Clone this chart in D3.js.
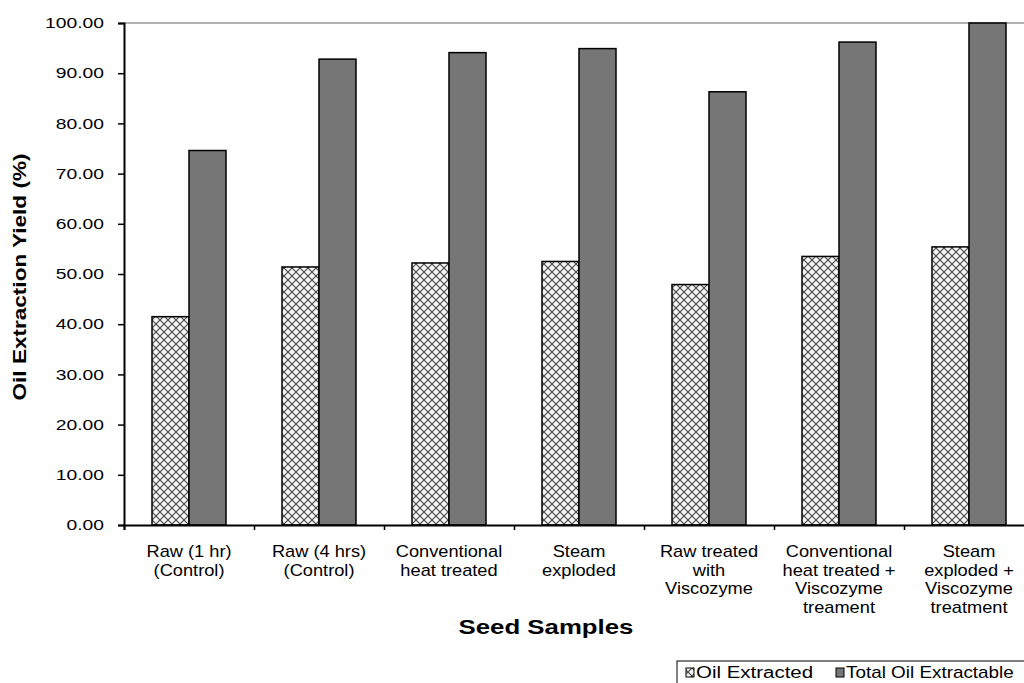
<!DOCTYPE html>
<html><head><meta charset="utf-8">
<script src="https://cdn.jsdelivr.net/npm/d3@7"></script>
<style>body{margin:0;background:#fff;} svg{display:block;font-family:"Liberation Sans",Arial,sans-serif;}</style>
</head><body>
<svg id="c" width="1024" height="683"></svg>
<script>
const categories = [
  ["Raw (1 hr)","(Control)"],
  ["Raw (4 hrs)","(Control)"],
  ["Conventional","heat treated"],
  ["Steam","exploded"],
  ["Raw treated","with","Viscozyme"],
  ["Conventional","heat treated +","Viscozyme","treament"],
  ["Steam","exploded +","Viscozyme","treatment"]
];
const oilExtracted = [41.5, 51.4, 52.2, 52.5, 47.9, 53.5, 55.4];
const totalExtractable = [74.6, 92.8, 94.1, 94.9, 86.3, 96.2, 100.0];
const seriesNames = ["Oil Extracted", "Total Oil Extractable"];
const yTicks = [0,10,20,30,40,50,60,70,80,90,100];

const svg = d3.select("#c");
const m = {left:124, top:23, bottom:525};
const plotW = 910;
const defs = svg.append("defs");
const pat = defs.append("pattern").attr("id","xhatch").attr("patternUnits","userSpaceOnUse")
  .attr("width",8).attr("height",8);
pat.append("rect").attr("width",8).attr("height",8).attr("fill","#f4f4f4");
pat.append("path").attr("d","M0,0L8,8M8,0L0,8").attr("stroke","#444").attr("stroke-width",1.1);

const x = d3.scaleBand().domain(d3.range(categories.length)).range([m.left, m.left+plotW]).paddingInner(0).paddingOuter(0);
const xi = d3.scaleBand().domain([0,1]).range([28, x.bandwidth()-28]);
const y = d3.scaleLinear().domain([0,100]).range([m.bottom, m.top]);

// top border line
svg.append("line").attr("x1",m.left).attr("x2",1024).attr("y1",y(100)).attr("y2",y(100))
  .attr("stroke","#999").attr("stroke-width",1.5);

const series = [oilExtracted, totalExtractable];
const fills = ["url(#xhatch)","#767676"];
series.forEach((s,si)=>{
  svg.append("g").selectAll("rect").data(s).join("rect")
    .attr("x",(d,i)=>x(i)+xi(si))
    .attr("width",xi.bandwidth())
    .attr("y",d=>y(d))
    .attr("height",d=>y(0)-y(d))
    .attr("fill",fills[si]).attr("stroke","#000").attr("stroke-width",1.5);
});

// y axis
const yAxis = d3.axisLeft(y).tickValues(yTicks).tickFormat(d3.format(".2f")).tickSize(6).tickPadding(14);
const ya = svg.append("g").attr("transform",`translate(${m.left},0)`).call(yAxis);
ya.select(".domain").attr("stroke","#000").attr("stroke-width",2);
ya.selectAll(".tick line").attr("stroke","#000").attr("stroke-width",1.5);
ya.selectAll(".tick text").each(function(){
  const t = d3.select(this);
  const tx = +t.attr("x");
  t.attr("x",0).attr("transform",`translate(${tx},0) scale(1.33,1)`);
}).attr("font-size",14.5).attr("fill","#000").attr("font-family","Liberation Sans, Arial, sans-serif");

// x axis
const xb = d3.scaleLinear().domain([0,categories.length]).range([m.left, m.left+plotW]);
const xa = svg.append("g").attr("transform",`translate(0,${m.bottom})`)
  .call(d3.axisBottom(xb).tickValues(d3.range(0,categories.length+1)).tickSize(5).tickFormat(""));
xa.select(".domain").attr("stroke","#000").attr("stroke-width",2);
xa.selectAll(".tick line").attr("stroke","#000").attr("stroke-width",1.5);

// category labels
const cl = svg.append("g").selectAll("text").data(categories).join("text")
  .attr("transform",(d,i)=>`translate(${x(i)+x.bandwidth()/2},557) scale(1.14,1)`)
  .attr("text-anchor","middle").attr("font-size",16).attr("fill","#000");
cl.each(function(d){
  d3.select(this).selectAll("tspan").data(d).join("tspan")
    .attr("x",0).attr("dy",(t,j)=>j===0?0:18.7).text(t=>t);
});

// axis titles
svg.append("text").attr("transform","translate(546,634) scale(1.29,1)").attr("text-anchor","middle")
  .attr("font-size",20).attr("font-weight","bold").text("Seed Samples");
svg.append("text").attr("transform",`translate(26,277) rotate(-90) scale(1.22,1)`)
  .attr("text-anchor","middle").attr("font-size",18.5).attr("font-weight","bold").text("Oil  Extraction Yield (%)");

// legend
const lg = svg.append("g");
lg.append("rect").attr("x",677).attr("y",661).attr("width",360).attr("height",40)
  .attr("fill","#fff").attr("stroke","#000").attr("stroke-width",1);
const lx = [686, 836];
const lsx = [1.28, 1.18];
seriesNames.forEach((n,i)=>{
  lg.append("rect").attr("x",lx[i]).attr("y",668).attr("width",8).attr("height",9)
    .attr("fill",fills[i]).attr("stroke","#000").attr("stroke-width",1);
  lg.append("text").attr("transform",`translate(${lx[i]+10},678) scale(${lsx[i]},1)`)
    .attr("font-size",16).attr("fill","#000").text(n);
});
</script>
</body></html>
